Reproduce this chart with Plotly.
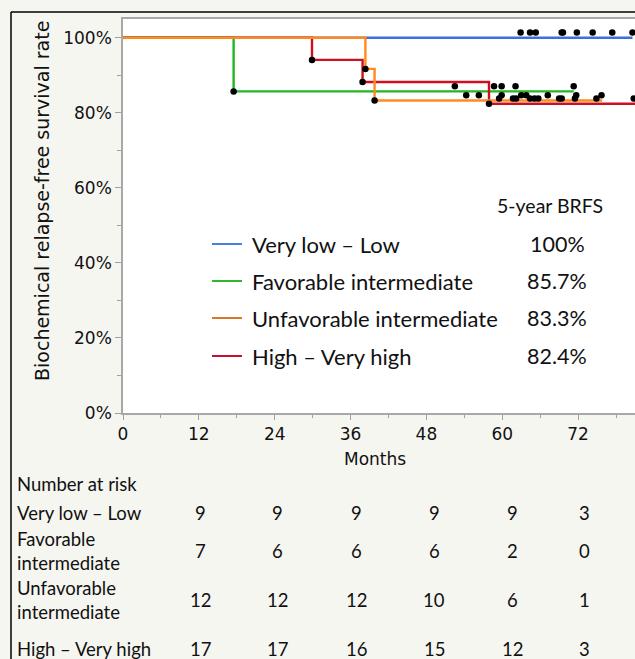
import plotly.graph_objects as go

# ---------------- data ----------------
groups = ["Very low – Low", "Favorable intermediate", "Unfavorable intermediate", "High – Very high"]
colors = ["#3d6fdc", "#22b822", "#ff8a1e", "#cc1020"]
legend_colors = ["#4a7ee0", "#2db82d", "#d9782a", "#c8102e"]
brfs_5yr = ["100%", "85.7%", "83.3%", "82.4%"]

event_times = [[], [17.5], [38.35, 39.8], [29.9, 37.9, 57.9]]
event_surv = [[], [85.7], [91.7, 83.3], [94.1, 88.2, 82.4]]
end_times = [80.6, 71.3, 75.8, 81.0]

censor_times = [
    [62.9, 64.4, 65.3, 69.4, 69.6, 71.8, 74.3, 77.4, 80.6],
    [52.5, 58.7, 59.9, 62.1, 71.3],
    [54.3, 56.3, 59.9, 63.0, 63.8, 67.2, 71.7, 75.7],
    [59.5, 61.7, 62.2, 64.4, 65.1, 65.7, 69.0, 69.4, 71.5, 74.9, 80.8],
]

risk_times = [12, 24, 36, 48, 60, 72]
risk_labels = ["Very low – Low", "Favorable<br>intermediate", "Unfavorable<br>intermediate", "High – Very high"]
risk_counts = [
    [9, 9, 9, 9, 9, 3],
    [7, 6, 6, 6, 2, 0],
    [12, 12, 12, 10, 6, 1],
    [17, 17, 16, 15, 12, 3],
]

x_ticks = [0, 12, 24, 36, 48, 60, 72]
y_ticks = [0, 20, 40, 60, 80, 100]
y_ticktext = ["0%", "20%", "40%", "60%", "80%", "100%"]

# ---------------- layout helpers ----------------
W, H = 635, 659
ML, MR, MT, MB = 123, 0, 19, 246
PW = W - ML - MR
PH = H - MT - MB
CENSOR_LIFT = 1.4
TABLE_COL_PX = [200, 277, 356, 434, 512, 584]


def px(x):
    return (x - ML) / PW


def py(y):
    return (H - MB - y) / PH


def surv_at(ti, si, t):
    s = 100.0
    for a, b in zip(ti, si):
        if t >= a:
            s = b
    return s


AXFONT = "DejaVu Sans"
TXFONT = "Lato"
INK = "#111"

fig = go.Figure()
order = [0, 1, 3, 2]
for g in order:
    xs = [0] + event_times[g] + [end_times[g]]
    ys = [100] + event_surv[g] + [event_surv[g][-1] if event_surv[g] else 100]
    fig.add_trace(go.Scatter(x=xs, y=ys, mode="lines", line=dict(color=colors[g], width=2.4, shape="hv"),
                             showlegend=False, hoverinfo="skip", cliponaxis=False))

for g in order:
    cx = censor_times[g]
    cy = [surv_at(event_times[g], event_surv[g], t) + CENSOR_LIFT for t in cx]
    fig.add_trace(go.Scatter(x=cx + event_times[g], y=cy + event_surv[g], mode="markers",
                             marker=dict(color="black", size=6.5), showlegend=False, cliponaxis=False))

shapes = []
# outer frame
shapes.append(dict(type="line", xref="paper", yref="paper", x0=px(11), x1=px(W + 5), y0=py(12), y1=py(12),
                   line=dict(color="black", width=1.5)))
shapes.append(dict(type="line", xref="paper", yref="paper", x0=px(11), x1=px(11), y0=py(12), y1=py(H + 5),
                   line=dict(color="black", width=1.5)))

annotations = []
# legend
row_y = [244, 281, 318, 356]
for i in range(4):
    shapes.append(dict(type="line", xref="paper", yref="paper", x0=px(212), x1=px(242), y0=py(row_y[i]), y1=py(row_y[i]),
                       line=dict(color=legend_colors[i], width=2)))
    annotations.append(dict(xref="paper", yref="paper", x=px(250), y=py(row_y[i]), text=groups[i], showarrow=False,
                            xanchor="left", yanchor="middle", font=dict(family=TXFONT, size=22, color=INK)))
    annotations.append(dict(xref="paper", yref="paper", x=px(557), y=py(row_y[i]), text=brfs_5yr[i], showarrow=False,
                            xanchor="center", yanchor="middle", font=dict(family=TXFONT, size=21.5, color=INK)))
annotations.append(dict(xref="paper", yref="paper", x=px(550), y=py(205), text="5-year BRFS", showarrow=False,
                        xanchor="center", yanchor="middle", font=dict(family=TXFONT, size=19.5, color=INK)))

# axis titles
annotations.append(dict(xref="paper", yref="paper", x=px(42), y=py(201), text="Biochemical relapse-free survival rate",
                        textangle=-90, showarrow=False, xanchor="center", yanchor="middle",
                        font=dict(family=AXFONT, size=19, color=INK)))
annotations.append(dict(xref="paper", yref="paper", x=px(375), y=py(459), text="Months", showarrow=False,
                        xanchor="center", yanchor="middle", font=dict(family=AXFONT, size=17, color=INK)))

# number at risk table
TFS = 18.5
annotations.append(dict(xref="paper", yref="paper", x=px(15), y=py(484), text="Number at risk", showarrow=False,
                        xanchor="left", yanchor="middle", font=dict(family=TXFONT, size=TFS, color=INK)))
table_y = [513, 551, 600, 649]
for i in range(4):
    annotations.append(dict(xref="paper", yref="paper", x=px(15), y=py(table_y[i]), text=risk_labels[i],
                            showarrow=False, xanchor="left", yanchor="middle", align="left",
                            font=dict(family=TXFONT, size=TFS, color=INK)))
    for cpx, n in zip(TABLE_COL_PX, risk_counts[i]):
        annotations.append(dict(xref="paper", yref="paper", x=px(cpx), y=py(table_y[i]), text=str(n),
                                showarrow=False, xanchor="center", yanchor="middle",
                                font=dict(family=TXFONT, size=TFS, color=INK)))

fig.update_layout(
    width=W, height=H,
    margin=dict(l=ML, r=MR, t=MT, b=MB, pad=0),
    paper_bgcolor="#f6f6f1", plot_bgcolor="white",
    shapes=shapes, annotations=annotations,
    xaxis=dict(range=[0, 81], tickvals=x_ticks, ticks="outside", ticklen=5, tickcolor="#a0a0a0",
               showline=True, linecolor="#a8a8a8", linewidth=1.5, mirror=True, showgrid=False, zeroline=False,
               tickfont=dict(family=AXFONT, size=17, color=INK),
               minor=dict(dtick=6, ticks="outside", ticklen=3, tickcolor="#a0a0a0")),
    yaxis=dict(range=[0, 105], tickvals=y_ticks, ticktext=y_ticktext, ticks="outside", ticklen=6,
               tickcolor="#a0a0a0",
               showline=True, linecolor="#a8a8a8", linewidth=1.5, showgrid=False, zeroline=False,
               tickfont=dict(family=AXFONT, size=17, color=INK),
               minor=dict(dtick=10, ticks="outside", ticklen=4, tickcolor="#a0a0a0")),
)

fig.write_html("out.html", config={"displayModeBar": False},
               post_script="document.body.style.margin='0';document.body.style.overflow='hidden';")
